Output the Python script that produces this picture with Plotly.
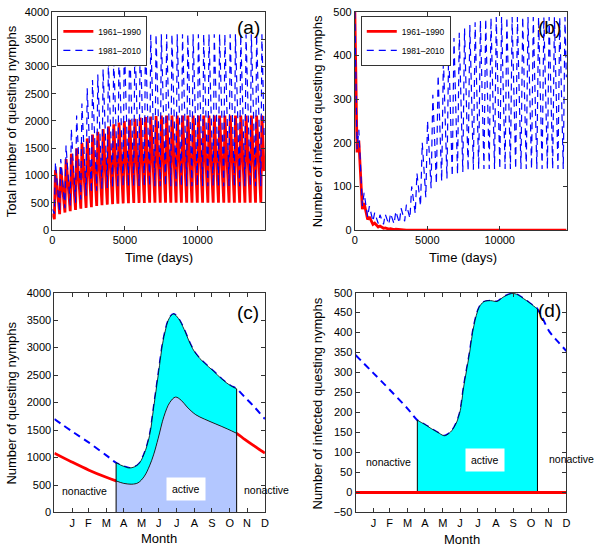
import plotly.graph_objects as go

FONT = "Liberation Sans, Arial, Helvetica, sans-serif"
RED = "#ff0000"
BLUE = "#0000ff"
CYAN = "#00ffff"
LIGHT = "#b3c7ff"

SERIES = ["1961\u20131990", "1981\u20132010"]

# ---------- panel (a): total questing nymphs, yearly trough / peak ----------
A_RED_START = 300
A_RED_TROUGH = [200, 290, 320, 345, 370, 390, 405, 420, 440, 455, 465, 475, 482, 488, 492, 495, 497, 498, 500, 500,
                500, 500, 500, 500, 500, 500, 500, 500, 500, 500, 500, 500, 500, 500, 500, 500, 500, 500, 500, 500]
A_RED_PEAK = [1100, 1150, 1300, 1400, 1500, 1600, 1680, 1750, 1800, 1850, 1900, 1940, 1970, 2000, 2020, 2040, 2060, 2070, 2080, 2090,
              2100, 2100, 2100, 2100, 2100, 2100, 2100, 2100, 2100, 2100, 2100, 2100, 2100, 2100, 2100, 2100, 2100, 2100, 2100, 2100]
A_RED_END = 1080
A_BLUE_START = 380
A_BLUE_TROUGH = [300, 330, 400, 450, 500, 560, 630, 680, 720, 750, 770, 780, 790, 800, 805, 805, 805, 805, 805, 805,
                 805, 805, 805, 805, 805, 805, 805, 805, 805, 805, 805, 805, 805, 805, 805, 805, 805, 805, 805, 805]
A_BLUE_PEAK = [1240, 1300, 1550, 1850, 2100, 2320, 2600, 2750, 2850, 2950, 3100, 3200, 3330, 3470, 3520, 3550, 3565, 3575, 3580, 3590,
               3590, 3590, 3590, 3590, 3590, 3590, 3590, 3590, 3590, 3590, 3590, 3590, 3590, 3590, 3590, 3590, 3590, 3590, 3590, 3590]
A_BLUE_END = 1700
A_TROUGH_DAY = 132   # day of year of the seasonal minimum
A_PEAK_DAY = 208     # day of year of the seasonal maximum

# ---------- panel (b): infected questing nymphs, yearly trough / peak ----------
B_RED_START = 500
B_RED_TROUGH = [178, 48, 24, 13, 7, 4, 2, 1, 1, 0, 0, 0, 0, 0, 0, 0, 0, 0, 0, 0,
                0, 0, 0, 0, 0, 0, 0, 0, 0, 0, 0, 0, 0, 0, 0, 0, 0, 0, 0, 0]
B_RED_PEAK = [205, 62, 30, 16, 9, 5, 3, 2, 1, 0, 0, 0, 0, 0, 0, 0, 0, 0, 0, 0,
              0, 0, 0, 0, 0, 0, 0, 0, 0, 0, 0, 0, 0, 0, 0, 0, 0, 0, 0, 0]
B_RED_END = 0
B_BLUE_START = 500
B_BLUE_TROUGH = [185, 55, 30, 20, 15, 13, 13, 14, 16, 20, 27, 38, 55, 75, 96, 106, 112, 118, 123, 128,
                 133, 136, 138, 140, 140, 140, 140, 140, 140, 140, 140, 140, 140, 140, 140, 140, 140, 140, 140, 140]
B_BLUE_PEAK = [230, 85, 55, 40, 35, 36, 38, 43, 50, 58, 100, 130, 200, 250, 310, 355, 395, 420, 440, 452,
               462, 470, 476, 480, 484, 486, 488, 488, 488, 488, 488, 488, 488, 488, 488, 488, 488, 488, 488, 488]
B_BLUE_END = 350
B_TROUGH_DAY = 154
B_PEAK_DAY = 274

TIME_TICKS = [0, 5000, 10000]
TIME_LABELS = ["0", "5000", "10000"]

# ---------- panel (c): seasonal cycle of questing nymphs ----------
C_BLUE_DAY = [0, 30, 60, 90, 107, 120, 131, 145, 155, 165, 172, 180, 190, 200, 207, 215, 225, 235, 245, 260, 275, 290, 305, 316, 330, 345, 365]
C_BLUE_VAL = [1700, 1480, 1270, 1040, 905, 840, 810, 870, 1050, 1400, 1900, 2500, 3200, 3550, 3610, 3530, 3330, 3080, 2890, 2720, 2580, 2430, 2310, 2250, 2100, 1940, 1700]
C_RED_DAY = [0, 30, 60, 90, 107, 120, 134, 145, 156, 165, 172, 180, 190, 200, 210, 220, 230, 245, 260, 280, 300, 316, 330, 345, 365]
C_RED_VAL = [1080, 920, 770, 640, 575, 530, 515, 540, 660, 850, 1050, 1350, 1750, 2000, 2100, 2040, 1920, 1780, 1700, 1610, 1520, 1440, 1330, 1220, 1080]

# ---------- panel (d): seasonal cycle of infected questing nymphs ----------
D_BLUE_DAY = [0, 30, 60, 90, 107, 120, 131, 145, 154, 162, 171, 180, 188, 197, 205, 214, 222, 234, 245, 257, 274, 291, 308, 315, 336, 350, 365]
D_BLUE_VAL = [344, 300, 256, 210, 181, 170, 160, 148, 142, 148, 164, 197, 271, 345, 418, 463, 477, 480, 478, 490, 498, 485, 467, 459, 402, 378, 354]
D_RED_DAY = [0, 365]
D_RED_VAL = [0, 0]

ACTIVE_START = 107
ACTIVE_END = 316

MONTH_END = [31, 59, 90, 120, 151, 181, 212, 243, 273, 304, 334, 365]
MONTH_LABELS = ["J", "F", "M", "A", "M", "J", "J", "A", "S", "O", "N", "D"]


def zigzag(start, troughs, peaks, tday, pday, end):
    xs, ys = [0], [start]
    for k in range(len(troughs)):
        xs += [365 * k + tday, 365 * k + pday]
        ys += [troughs[k], peaks[k]]
    xs.append(365 * len(troughs))
    ys.append(end)
    return xs, ys


def active(days, vals):
    d = [x for x in days if ACTIVE_START <= x <= ACTIVE_END]
    v = [y for x, y in zip(days, vals) if ACTIVE_START <= x <= ACTIVE_END]
    return d, v


DASH = "7px,5px"
RW = 2.8
BW = 1.2
fig = go.Figure()

# (a)
xr, yr = zigzag(A_RED_START, A_RED_TROUGH, A_RED_PEAK, A_TROUGH_DAY + 2, A_PEAK_DAY + 2, A_RED_END)
xb, yb = zigzag(A_BLUE_START, A_BLUE_TROUGH, A_BLUE_PEAK, A_TROUGH_DAY, A_PEAK_DAY, A_BLUE_END)
fig.add_trace(go.Scatter(x=xr, y=yr, mode="lines", name=SERIES[0], line=dict(color=RED, width=RW),
                         xaxis="x", yaxis="y", legend="legend"))
fig.add_trace(go.Scatter(x=xb, y=yb, mode="lines", name=SERIES[1], line=dict(color=BLUE, width=BW, dash=DASH),
                         xaxis="x", yaxis="y", legend="legend"))

# (b)
xr, yr = zigzag(B_RED_START, B_RED_TROUGH, B_RED_PEAK, B_TROUGH_DAY, B_PEAK_DAY, B_RED_END)
xb, yb = zigzag(B_BLUE_START, B_BLUE_TROUGH, B_BLUE_PEAK, B_TROUGH_DAY, B_PEAK_DAY, B_BLUE_END)
fig.add_trace(go.Scatter(x=xr, y=yr, mode="lines", name=SERIES[0], line=dict(color=RED, width=RW),
                         xaxis="x2", yaxis="y2", legend="legend2"))
fig.add_trace(go.Scatter(x=xb, y=yb, mode="lines", name=SERIES[1], line=dict(color=BLUE, width=BW, dash=DASH),
                         xaxis="x2", yaxis="y2", legend="legend2"))

# (c)
fig.add_trace(go.Scatter(x=C_RED_DAY, y=C_RED_VAL, mode="lines", line=dict(color=RED, width=RW, shape="spline"),
                         xaxis="x3", yaxis="y3", showlegend=False))
fig.add_trace(go.Scatter(x=C_BLUE_DAY, y=C_BLUE_VAL, mode="lines", line=dict(color=BLUE, width=2, dash=DASH, shape="spline"),
                         xaxis="x3", yaxis="y3", showlegend=False))
ard, arv = active(C_RED_DAY, C_RED_VAL)
abd, abv = active(C_BLUE_DAY, C_BLUE_VAL)
fig.add_trace(go.Scatter(x=ard, y=arv, mode="lines", fill="tozeroy", fillcolor=LIGHT,
                         line=dict(color="black", width=0.8, shape="spline"), xaxis="x3", yaxis="y3", showlegend=False))
fig.add_trace(go.Scatter(x=abd, y=abv, mode="lines", fill="tonexty", fillcolor=CYAN,
                         line=dict(color="black", width=0.8, shape="spline"), xaxis="x3", yaxis="y3", showlegend=False))
fig.add_trace(go.Scatter(x=[abd[0], abd[0], None, abd[-1], abd[-1]], y=[0, abv[0], None, 0, abv[-1]], mode="lines",
                         line=dict(color="black", width=1), xaxis="x3", yaxis="y3", showlegend=False))

# (d)
fig.add_trace(go.Scatter(x=D_BLUE_DAY, y=D_BLUE_VAL, mode="lines", line=dict(color=BLUE, width=2, dash=DASH, shape="spline"),
                         xaxis="x4", yaxis="y4", showlegend=False))
dbd, dbv = active(D_BLUE_DAY, D_BLUE_VAL)
fig.add_trace(go.Scatter(x=dbd, y=dbv, mode="lines", fill="tozeroy", fillcolor=CYAN,
                         line=dict(color="black", width=0.8, shape="spline"), xaxis="x4", yaxis="y4", showlegend=False))
fig.add_trace(go.Scatter(x=[dbd[0], dbd[0], None, dbd[-1], dbd[-1]], y=[0, dbv[0], None, 0, dbv[-1]], mode="lines",
                         line=dict(color="black", width=1), xaxis="x4", yaxis="y4", showlegend=False))
fig.add_trace(go.Scatter(x=D_RED_DAY, y=D_RED_VAL, mode="lines", line=dict(color=RED, width=RW),
                         xaxis="x4", yaxis="y4", showlegend=False))

W, H = 600, 554


def px_x(p):
    return p / W


def px_y(p):
    return 1 - p / H


axis_common = dict(showline=True, linecolor="#333", linewidth=1, mirror="ticks", ticks="inside", ticklen=4,
                   tickcolor="#333", showgrid=False, zeroline=False,
                   tickfont=dict(family=FONT, size=11, color="black"))

top_dom = [px_y(229), px_y(6)]
bot_dom = [px_y(517.7), px_y(293)]

legend_common = dict(xanchor="left", yanchor="top", bgcolor="white", bordercolor="#333", borderwidth=1,
                     font=dict(family=FONT, size=8.5), itemwidth=30, tracegroupgap=0, traceorder="normal")

fig.update_layout(
    width=W, height=H, margin=dict(l=0, r=0, t=0, b=0),
    paper_bgcolor="white", plot_bgcolor="white",
    font=dict(family=FONT, color="black"),
    xaxis=dict(axis_common, domain=[px_x(50), px_x(265)], range=[0, 14650], tickvals=TIME_TICKS, ticktext=TIME_LABELS, anchor="y"),
    yaxis=dict(axis_common, domain=top_dom, range=[0, 4000], dtick=500, anchor="x"),
    xaxis2=dict(axis_common, domain=[px_x(356), px_x(570.7)], range=[0, 14650], tickvals=TIME_TICKS, ticktext=TIME_LABELS, anchor="y2"),
    yaxis2=dict(axis_common, domain=top_dom, range=[0, 500], dtick=100, anchor="x2"),
    xaxis3=dict(axis_common, domain=[px_x(52), px_x(265)], range=[0, 365], tickvals=MONTH_END, ticktext=MONTH_LABELS, anchor="y3"),
    yaxis3=dict(axis_common, domain=bot_dom, range=[0, 4000], dtick=500, anchor="x3"),
    xaxis4=dict(axis_common, domain=[px_x(356.7), px_x(570)], range=[0, 365], tickvals=MONTH_END, ticktext=MONTH_LABELS, anchor="y4"),
    yaxis4=dict(axis_common, domain=bot_dom, range=[-50, 500], dtick=50, anchor="x4"),
    legend=dict(legend_common, x=px_x(55), y=px_y(10)),
    legend2=dict(legend_common, x=px_x(362), y=px_y(10)),
)

ann = []


def paper_text(text, x, y, size, angle=0, box=False):
    d = dict(text=text, x=px_x(x), y=px_y(y), xref="paper", yref="paper", showarrow=False,
             xanchor="center", yanchor="middle", textangle=angle, font=dict(family=FONT, size=size, color="black"))
    if box:
        d.update(bgcolor="white", borderpad=5)
    ann.append(d)


paper_text("(a)", 248.5, 21.5, 19)
paper_text("(b)", 552.5, 22, 19)
paper_text("(c)", 247.5, 313, 19)
paper_text("(d)", 553, 311, 19)
paper_text("Total number of questing nymphs", 9, 118, 13, -90)
paper_text("Number of infected questing nymphs", 318.5, 118, 13, -90)
paper_text("Number of questing nymphs", 8.5, 406, 13, -90)
paper_text("Number of infected questing nymphs", 318, 406, 13, -90)
paper_text("Time (days)", 158, 257.5, 13)
paper_text("Time (days)", 465, 257.5, 13)
paper_text("Month", 158, 544, 13)
paper_text("Month", 464, 545, 13)

paper_text("nonactive", 82, 495.5, 10.5)
paper_text("active", 185.5, 493.5, 10.5, box=True)
paper_text("nonactive", 266.7, 494.5, 10.5)
paper_text("nonactive", 390, 466, 10.5)
paper_text("active", 487.5, 464.5, 10.5, box=True)
paper_text("nonactive", 575, 463, 10.5)

fig.update_layout(annotations=ann)
fig.write_html("out.html", config={"displayModeBar": False},
               post_script="document.body.style.margin='0px';")
